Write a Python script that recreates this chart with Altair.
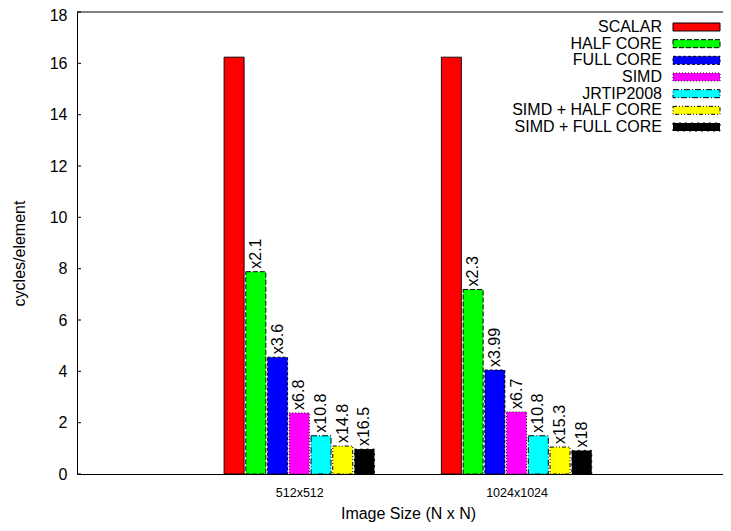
import altair as alt
import pandas as pd

# ---- data ----
groups = ["512x512", "1024x1024"]
series = ["SCALAR", "HALF CORE", "FULL CORE", "SIMD", "JRTIP2008",
          "SIMD + HALF CORE", "SIMD + FULL CORE"]
cycles_512 = [16.24, 7.88, 4.55, 2.38, 1.49, 1.09, 0.97]
cycles_1024 = [16.24, 7.19, 4.05, 2.42, 1.49, 1.05, 0.92]
speedup_512 = ["", "x2.1", "x3.6", "x6.8", "x10.8", "x14.8", "x16.5"]
speedup_1024 = ["", "x2.3", "x3.99", "x6.7", "x10.8", "x15.3", "x18"]
y_ticks = [0, 2, 4, 6, 8, 10, 12, 14, 16, 18]

colors = ["#ff0000", "#00ff00", "#0000ff", "#ff00ff", "#00ffff", "#ffff00", "#000000"]
dashes = [[1, 0], [5, 2], [3, 2], [1, 2], [6, 2, 1, 2], [4, 2, 1, 2, 1, 2], [2, 4]]

FONT = "Liberation Sans"

rows = []
for gi, (g, vals, labs) in enumerate([(groups[0], cycles_512, speedup_512),
                                      (groups[1], cycles_1024, speedup_1024)]):
    for k, s in enumerate(series):
        rows.append({"group": g, "series": s, "value": vals[k], "label": labs[k],
                     "pos": gi + (k - 3) * 0.1})
df = pd.DataFrame(rows)
legend_df = pd.DataFrame({"series": series})
ticks_df = pd.DataFrame({"v": y_ticks})
top_df = pd.DataFrame({"v": [y_ticks[-1]]})

label_expr = "datum.value == 0 ? '%s' : (datum.value == 1 ? '%s' : '')" % (groups[0], groups[1])

xscale = alt.Scale(domain=[-1.0, 1.927], nice=False, zero=False)
yscale = alt.Scale(domain=[0, 18], nice=False)
cscale = alt.Scale(domain=series, range=colors)
dscale = alt.Scale(domain=series, range=dashes)

x_enc = alt.X("pos:Q", scale=xscale,
              axis=alt.Axis(values=[0, 1], labelExpr=label_expr, title="Image Size (N x N)",
                            grid=False, ticks=False, domain=True, domainColor="black",
                            domainWidth=1, labelFont=FONT, labelFontSize=12.5,
                            labelColor="black", labelBaseline="top", labelPadding=12,
                            titleFont=FONT, titleFontSize=16, titleFontWeight="normal",
                            titleColor="black", titleX=331, titleY=39,
                            titleBaseline="middle", titleAlign="center"))
y_enc = alt.Y("value:Q", scale=yscale,
              axis=alt.Axis(values=y_ticks, title="cycles/element", grid=False, ticks=False,
                            domain=True, domainColor="black", domainWidth=1,
                            labelFont=FONT, labelFontSize=16, labelColor="black",
                            labelPadding=10,
                            labelOffset={"condition": {"test": "datum.value == 18", "value": 3},
                                         "value": 0},
                            titleFont=FONT, titleFontSize=16,
                            titleFontWeight="normal", titleColor="black",
                            titleX=-58, titleY=241, titleAngle=270,
                            titleAlign="center", titleBaseline="middle"))

bars = alt.Chart(df).mark_bar(width=20, stroke="black", strokeWidth=1).encode(
    x=x_enc,
    y=y_enc,
    color=alt.Color("series:N", scale=cscale, legend=None),
    strokeDash=alt.StrokeDash("series:N", scale=dscale, legend=None),
)

labels = alt.Chart(df).mark_text(angle=270, align="left", baseline="middle", dx=3,
                                 font=FONT, fontSize=16, color="black").encode(
    x=alt.X("pos:Q", scale=xscale),
    y=alt.Y("value:Q", scale=yscale),
    text="label:N",
)

ticks = alt.Chart(ticks_df).mark_rule(color="black", strokeWidth=1).encode(
    y=alt.Y("v:Q", scale=yscale),
    x=alt.value(0),
    x2=alt.value(4),
)

top_line = alt.Chart(top_df).mark_rule(color="black", strokeWidth=1).encode(
    y=alt.Y("v:Q", scale=yscale),
)

main = alt.layer(bars, labels, ticks, top_line)

ly = alt.Y("series:N", sort=series, axis=None,
           scale=alt.Scale(type="point", domain=series, range=[15, 115], padding=0))

keys = alt.Chart(legend_df).mark_point(
    shape="M-1,-0.17L1,-0.17L1,0.17L-1,0.17Z", size=2209, filled=True,
    stroke="black", strokeWidth=1, opacity=1).encode(
    x=alt.value(619.5),
    y=ly,
    fill=alt.Fill("series:N", scale=cscale, legend=None),
    strokeDash=alt.StrokeDash("series:N", scale=dscale, legend=None),
)

key_text = alt.Chart(legend_df).mark_text(align="right", baseline="middle", font=FONT,
                                          fontSize=16, color="black").encode(
    x=alt.value(585),
    y=ly,
    text="series:N",
)

legend = alt.layer(keys, key_text)

chart = alt.layer(main, legend).resolve_scale(y="independent").properties(
    width=646, height=462,
    autosize=alt.AutoSizeParams(type="none"),
    padding={"left": 69, "top": 4, "right": 0, "bottom": 49},
    background="white",
).configure_view(stroke=None)

chart.save("out.html", embed_options={"renderer": "svg", "actions": False})
